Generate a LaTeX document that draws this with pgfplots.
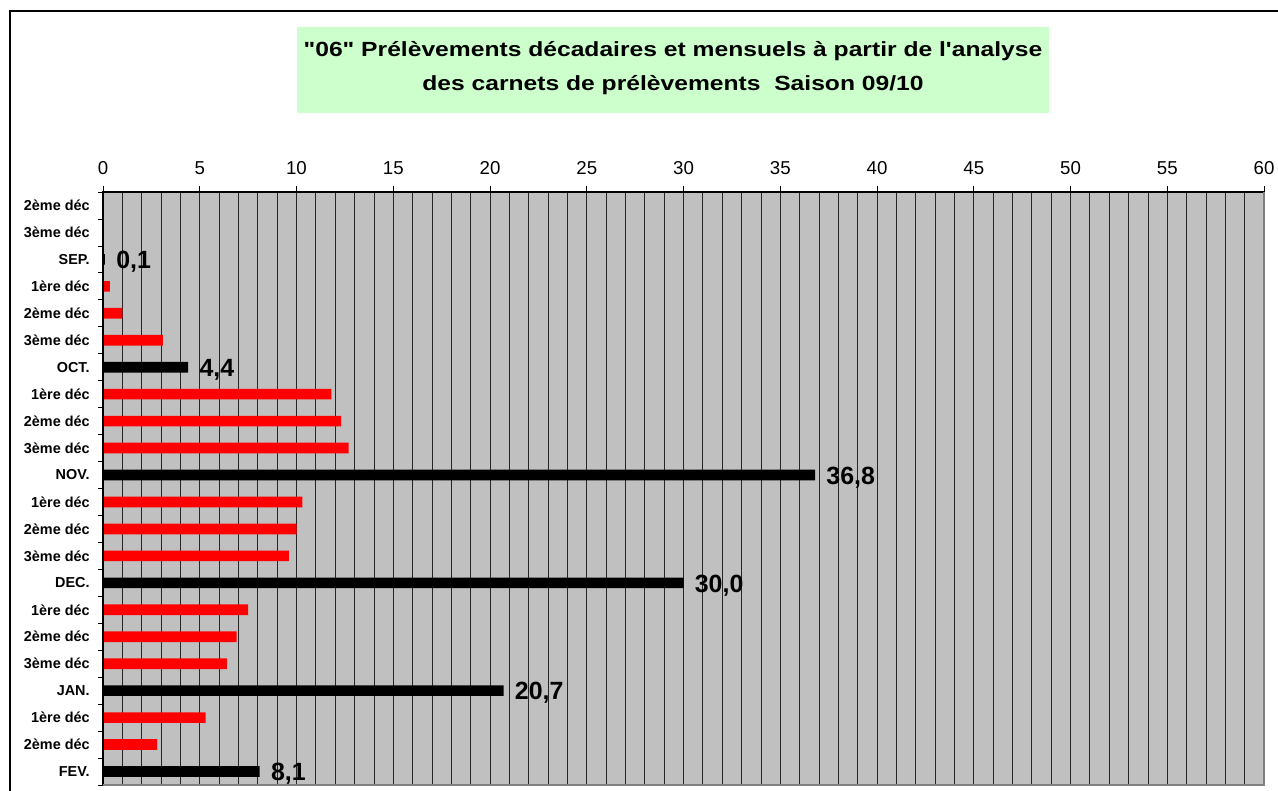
\documentclass[border=0pt]{standalone}
\usepackage{fontspec}
\setmainfont{Liberation Sans}
\newfontfamily\titlefont[FakeStretch=1.2]{Liberation Sans}
\usepackage{pgfplots}
\pgfplotsset{compat=1.18}
\definecolor{bggray}{HTML}{C0C0C0}
\definecolor{titlegreen}{HTML}{CCFFCC}
\definecolor{edgegray}{HTML}{808080}
\begin{document}
\begin{tikzpicture}
\useasboundingbox (0,0) rectangle (958.5pt,593.25pt);
% outer frame
\draw[line width=1.6pt] (7.2pt,-5pt) -- (7.2pt,584.8pt) -- (965pt,584.8pt);
% title box
\fill[titlegreen] (222.75pt,508.5pt) rectangle (786.75pt,573pt);
\node[anchor=base,inner sep=0pt] at (504.75pt,550.7pt) {\titlefont\bfseries\fontsize{15.4}{18}\selectfont "06" Prélèvements décadaires et mensuels à partir de l'analyse};
\node[anchor=base,inner sep=0pt] at (504.75pt,525pt) {\titlefont\bfseries\fontsize{15.4}{18}\selectfont des carnets de prélèvements\ \ Saison 09/10};
\begin{axis}[
  at={(77.25pt,4.5pt)}, anchor=south west,
  scale only axis, width=870.75pt, height=444.75pt,
  xmin=0, xmax=60, ymin=-0.5, ymax=21.5, y dir=reverse,
  axis background/.style={fill=bggray},
  axis line style={draw=none},
  xtick={0,5,...,60}, minor x tick num=4,
  xmajorgrids, xminorgrids,
  major grid style={black!85, line width=0.6pt},
  minor grid style={black!85, line width=0.6pt},
  xtick pos=right, xticklabel pos=right,
  ytick pos=left,
  tick align=outside,
  major tick length=4.5pt, minor tick length=3.75pt,
  tick style={black, line width=0.6pt},
  major y tick style={draw=none},
  minor x tick style={draw=none},
  ytick={0,...,21},
  minor ytick={-0.5,0.5,...,21.5},
  yticklabels={2ème déc,3ème déc,SEP.,1ère déc,2ème déc,3ème déc,OCT.,1ère déc,2ème déc,3ème déc,NOV.,1ère déc,2ème déc,3ème déc,DEC.,1ère déc,2ème déc,3ème déc,JAN.,1ère déc,2ème déc,FEV.},
  yticklabel style={font=\bfseries\fontsize{10.8}{13}\selectfont, xshift=-2pt},
  xticklabel style={font=\fontsize{14}{16}\selectfont, yshift=5pt},
  /pgf/number format/assume math mode=true,
  xbar, bar width=8pt, bar shift=0pt,
  clip=false,
]
\addplot[fill=red, draw=none] coordinates {
 (0.35,3) (1.0,4) (3.1,5)
 (11.8,7) (12.3,8) (12.7,9)
 (10.3,11) (10.0,12) (9.6,13)
 (7.5,15) (6.9,16) (6.4,17)
 (5.3,19) (2.8,20)
};
\addplot[fill=black, draw=none,
  nodes near coords,
  nodes near coords style={font=\bfseries\fontsize{18.7}{22}\selectfont, anchor=west, xshift=5pt, yshift=-1.8pt,
    /pgf/number format/.cd, fixed, fixed zerofill, precision=1, use comma, assume math mode=true}
] coordinates {
 (0.1,2) (4.4,6) (36.8,10) (30.0,14) (20.7,18) (8.1,21)
};
\draw[black, line width=1.1pt] (rel axis cs:0,0) -- (rel axis cs:0,1) -- (rel axis cs:1,1);
\draw[edgegray, line width=1.1pt] (rel axis cs:0,0) -- (rel axis cs:1,0) -- (rel axis cs:1,1);
\end{axis}
\end{tikzpicture}
\end{document}
